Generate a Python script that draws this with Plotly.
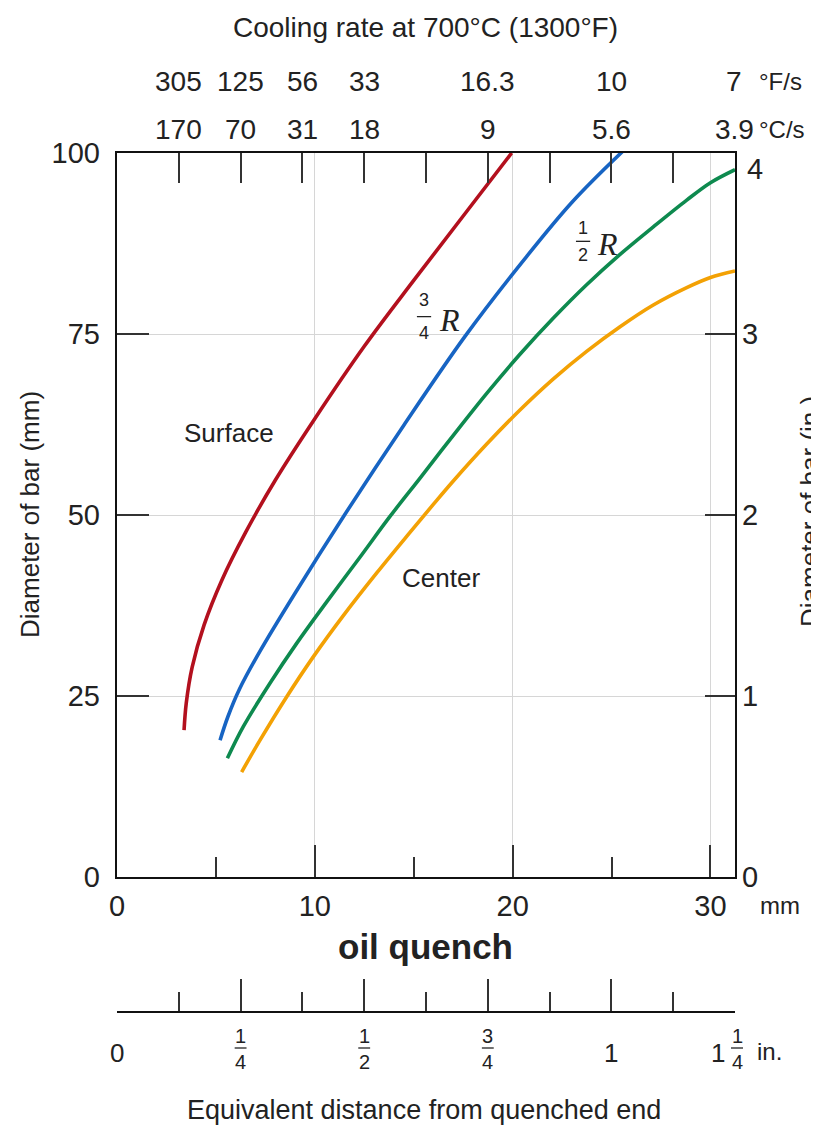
import plotly.graph_objects as go

# ---------------- data ----------------
# x: equivalent distance from quenched end (mm); y: diameter of bar (mm)
surface_x = [3.39, 3.5, 3.8, 4.4, 5.3, 6.5, 8.0, 10.0, 12.5, 15.0, 17.5, 19.95]
surface_y = [20.3, 24.0, 29.0, 34.8, 41.0, 47.6, 54.8, 63.3, 73.3, 82.4, 91.3, 100.0]

three_quarter_x = [5.21, 5.6, 6.2, 7.23, 9.0, 11.5, 14.5, 17.6, 20.5, 23.0, 25.55]
three_quarter_y = [18.9, 22.1, 26.0, 31.2, 39.2, 50.0, 62.4, 74.7, 85.0, 93.2, 100.2]

half_x = [5.58, 6.39, 7.74, 9.09, 10.6, 12.29, 13.8, 15.32, 17.0, 18.69, 20.37, 22.06, 23.74, 25.43, 27.11, 28.8, 30.0, 31.24]
half_y = [16.4, 20.8, 26.8, 32.3, 38.0, 44.2, 49.8, 55.1, 61.0, 66.8, 72.2, 77.2, 81.8, 86.0, 89.8, 93.5, 95.9, 97.7]

center_x = [6.3, 7.23, 8.58, 9.92, 11.44, 13.13, 14.81, 16.0, 17.0, 18.69, 20.37, 22.06, 23.74, 25.43, 27.11, 28.8, 30.0, 31.24]
center_y = [14.5, 18.9, 24.9, 30.4, 36.1, 42.0, 47.6, 51.5, 54.7, 59.8, 64.5, 68.8, 72.6, 76.0, 79.0, 81.4, 82.8, 83.7]

# axis ticks / labels
mm_major = [0, 10, 20, 30]
mm_minor = [5, 15, 25]
dia_mm_ticks = [0, 25, 50, 75, 100]
dia_in_ticks = [0, 1, 2, 3]
inch_major = [0, 0.25, 0.5, 0.75, 1.0, 1.25]
inch_minor = [0.125, 0.375, 0.625, 0.875, 1.125]
top_ticks = [k / 8 for k in range(1, 10)]
rate_pos = [1 / 8, 2 / 8, 3 / 8, 4 / 8, 6 / 8, 8 / 8, 10 / 8]
rate_F = ["305", "125", "56", "33", "16.3", "10", "7"]
rate_C = ["170", "70", "31", "18", "9", "5.6", "3.9"]

# ---------------- layout geometry ----------------
# the page body has an 8px margin, so the figure is drawn from (8, 8)
OFF = 8
W, H = 811, 1118
L, R, T, B = 109, 84, 145, 114
PW, PH = W - L - R, H - T - B
Y_BOTTOM_SCREEN = 877  # bottom of the main plot frame (screen px)


def sx(x):
    """screen x pixel -> paper fraction"""
    return (x - OFF - L) / PW


def sy(y):
    """screen y pixel -> paper fraction"""
    return (H - B - (y - OFF)) / PH


FONT = "Liberation Sans, Arial, Helvetica, sans-serif"
SERIF = "Liberation Serif, Times New Roman, serif"
TXT = "#222222"
GRID = "#d6d6d6"
LINE = "#111111"

fig = go.Figure()

curves = [
    (surface_x, surface_y, "#b3101e", "Surface"),
    (three_quarter_x, three_quarter_y, "#1764c3", "3/4 R"),
    (half_x, half_y, "#0e8a4f", "1/2 R"),
    (center_x, center_y, "#f3a104", "Center"),
]
for xs, ys, col, name in curves:
    fig.add_trace(go.Scatter(x=xs, y=ys, mode="lines", name=name,
                             line=dict(color=col, width=3.6, shape="spline", smoothing=1.0),
                             hoverinfo="skip", showlegend=False))

# invisible helper traces so the extra axes get drawn
fig.add_trace(go.Scatter(x=[0, 1.25], y=[0, 0], xaxis="x2", yaxis="y", mode="markers",
                         marker=dict(opacity=0), hoverinfo="skip", showlegend=False))
fig.add_trace(go.Scatter(x=[0, 1.25], y=[0, 0], xaxis="x3", yaxis="y", mode="markers",
                         marker=dict(opacity=0), hoverinfo="skip", showlegend=False))
fig.add_trace(go.Scatter(x=[0, 0], y=[0, 4], xaxis="x", yaxis="y2", mode="markers",
                         marker=dict(opacity=0), hoverinfo="skip", showlegend=False))

ydom0 = sy(Y_BOTTOM_SCREEN)

fig.update_layout(
    width=W, height=H,
    margin=dict(l=L, r=R, t=T, b=B, pad=0),
    paper_bgcolor="white", plot_bgcolor="white",
    font=dict(family=FONT, color=TXT, size=27),
    xaxis=dict(domain=[0, 1], range=[0, 31.24], anchor="y",
               tickmode="array", tickvals=mm_major, ticktext=[str(v) for v in mm_major],
               ticks="inside", ticklen=32, tickwidth=1.5, tickcolor="#333",
               showgrid=True, gridcolor=GRID, gridwidth=1,
               showline=True, linecolor=LINE, linewidth=2.4, mirror=True,
               zeroline=False, tickfont=dict(size=29, color=TXT), ticklabelstandoff=2,
               minor=dict(tickvals=mm_minor, ticks="inside", ticklen=20, tickwidth=1.5,
                          tickcolor="#333", showgrid=False)),
    xaxis2=dict(overlaying="x", side="top", anchor="y", range=[0, 1.25],
                tickmode="array", tickvals=top_ticks, ticks="inside", ticklen=30,
                tickwidth=1.5, tickcolor="#333", showticklabels=False,
                showgrid=False, showline=False, zeroline=False),
    xaxis3=dict(overlaying="x", side="bottom", anchor="free", position=0, range=[0, 1.25],
                tickmode="array", tickvals=inch_major, ticks="inside", ticklen=32,
                tickwidth=1.5, tickcolor="#333", showticklabels=False,
                showgrid=False, showline=True, linecolor=LINE, linewidth=2.4, zeroline=False,
                minor=dict(tickvals=inch_minor, ticks="inside", ticklen=19, tickwidth=1.5,
                           tickcolor="#333", showgrid=False)),
    yaxis=dict(domain=[ydom0, 1], range=[0, 100], anchor="x",
               tickmode="array", tickvals=dia_mm_ticks, ticktext=[str(v) for v in dia_mm_ticks],
               ticks="inside", ticklen=32, tickwidth=1.5, tickcolor="#333",
               showgrid=True, gridcolor=GRID, gridwidth=1,
               showline=True, linecolor=LINE, linewidth=2.4, mirror=True,
               zeroline=False, tickfont=dict(size=29, color=TXT), ticklabelstandoff=9),
    yaxis2=dict(overlaying="y", side="right", anchor="x", range=[0, 4],
                tickmode="array", tickvals=dia_in_ticks, ticktext=[str(v) for v in dia_in_ticks],
                ticks="inside", ticklen=30, tickwidth=1.5, tickcolor="#333",
                showgrid=False, showline=False, zeroline=False,
                tickfont=dict(size=29, color=TXT), ticklabelstandoff=6),
)

ann = []


def add(text, x, y, xref="paper", yref="paper", size=27, xanchor="center", yanchor="middle",
        family=FONT, angle=0):
    ann.append(dict(text=text, x=x, y=y, xref=xref, yref=yref, showarrow=False,
                    xanchor=xanchor, yanchor=yanchor, textangle=angle,
                    font=dict(family=family, size=size, color=TXT)))


# top title and cooling-rate rows
add("Cooling rate at 700°C (1300°F)", sx(425), sy(28), size=28)
for pos, f, c in zip(rate_pos[:-1], rate_F[:-1], rate_C[:-1]):
    add(f, pos, sy(82), xref="x2", size=28)
    add(c, pos, sy(130), xref="x2", size=28)
add(rate_F[-1], sx(734), sy(82), size=28)
add(rate_C[-1], sx(734), sy(130), size=28)
add("°F/s", sx(757), sy(82), xanchor="left", size=24)
add("°C/s", sx(757), sy(130), xanchor="left", size=24)

# right axis top label and titles
add("4", sx(745), sy(169), xanchor="left", size=29)
add("Diameter of bar (mm)", sx(30), sy(515), size=26, angle=-90)
add("Diameter of bar (in.)", sx(810), sy(512), size=26, angle=-90)

# bottom mm axis unit and quench label
add("mm", sx(780), sy(905), size=24)
add("<b>oil quench</b>", sx(425), sy(946), size=35)

# inch scale labels
add("0", 0, sy(1053), xref="x3", size=26)
add("1", 1.0, sy(1053), xref="x3", size=26)
for pos, num, den in [(0.25, "1", "4"), (0.5, "1", "2"), (0.75, "3", "4")]:
    add(num, pos, sy(1036), xref="x3", size=20)
    add(den, pos, sy(1062), xref="x3", size=20)
add("1", sx(718), sy(1053), size=26)
add("1", sx(737), sy(1036), size=20)
add("4", sx(737), sy(1062), size=20)
add("in.", sx(755), sy(1051), xanchor="left", size=24)
add("Equivalent distance from quenched end", sx(424), sy(1110), size=27)

# curve labels inside the plot (data coordinates)
add("Surface", 5.66, 61.3, xref="x", yref="y", size=26)
add("Center", 16.4, 41.3, xref="x", yref="y", size=26)
add("3", 15.52, 79.7, xref="x", yref="y", size=18)
add("4", 15.52, 75.1, xref="x", yref="y", size=18)
add("<i>R</i>", 16.2, 76.9, xref="x", yref="y", size=32, family=SERIF, xanchor="left")
add("1", 23.56, 89.7, xref="x", yref="y", size=18)
add("2", 23.56, 85.9, xref="x", yref="y", size=18)
add("<i>R</i>", 24.15, 87.5, xref="x", yref="y", size=32, family=SERIF, xanchor="left")

fig.update_layout(annotations=ann)

# fraction bars
shapes = []
for xc, yc in [(15.52, 77.4), (23.56, 87.8)]:
    shapes.append(dict(type="line", xref="x", yref="y", x0=xc - 0.36, x1=xc + 0.36,
                       y0=yc, y1=yc, line=dict(color=TXT, width=1.3)))
for pos in [0.25, 0.5, 0.75]:
    shapes.append(dict(type="line", xref="x3", yref="paper", x0=pos - 0.012, x1=pos + 0.012,
                       y0=sy(1048), y1=sy(1048), line=dict(color=TXT, width=1.3)))
shapes.append(dict(type="line", xref="paper", yref="paper", x0=sx(731), x1=sx(743),
                   y0=sy(1048), y1=sy(1048), line=dict(color=TXT, width=1.3)))
fig.update_layout(shapes=shapes)

fig.write_html("out.html")
